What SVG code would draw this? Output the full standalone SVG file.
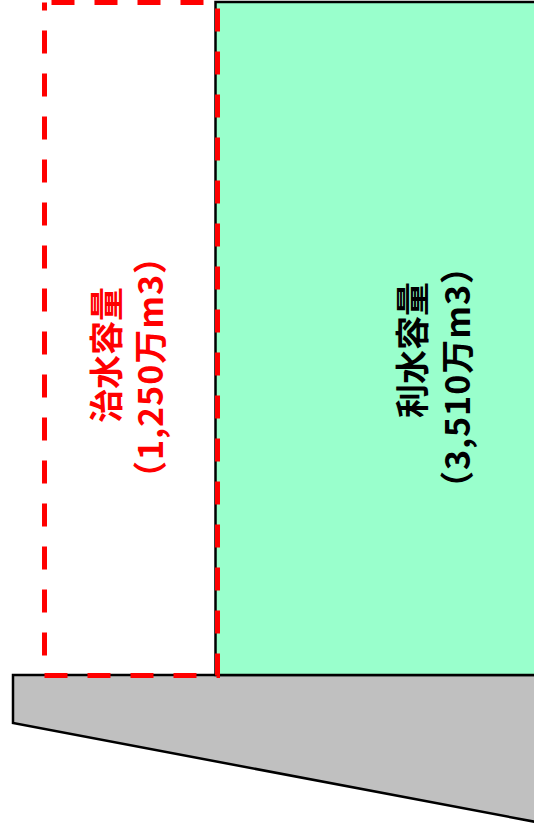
<svg xmlns="http://www.w3.org/2000/svg" width="534" height="829" viewBox="0 0 534 829">
<style>
.lbl{font-family:"Noto Sans CJK JP","Noto Sans",sans-serif;font-size:34px;font-weight:bold;text-anchor:middle}
.sub{letter-spacing:1px}
</style>
<rect x="0" y="0" width="534" height="829" fill="#ffffff"/>
<g id="base">
<polygon points="13,675 536,675 536,822 13,723" fill="#c0c0c0" stroke="#000000" stroke-width="2.5" stroke-linejoin="miter"/>
</g>
<g id="risui">
<rect x="215.5" y="2" width="322" height="673" fill="#99ffcc" stroke="#000000" stroke-width="2.5"/>
<text class="lbl" fill="#000000" transform="translate(425,350) rotate(-90)">利水容量</text>
<text class="lbl sub" fill="#000000" transform="translate(470,377) rotate(-90)">（3,510万m3）</text>
</g>
<g id="chisui">
<rect x="44.5" y="2.5" width="173" height="673" fill="none" stroke="#ff0000" stroke-width="5" stroke-dasharray="23 20" stroke-dashoffset="-7"/>
<text class="lbl" fill="#ff0000" transform="translate(119,355) rotate(-90)">治水容量</text>
<text class="lbl sub" fill="#ff0000" transform="translate(163,367) rotate(-90)">（1,250万m3）</text>
</g>
<g id="connectors"/>
</svg>
